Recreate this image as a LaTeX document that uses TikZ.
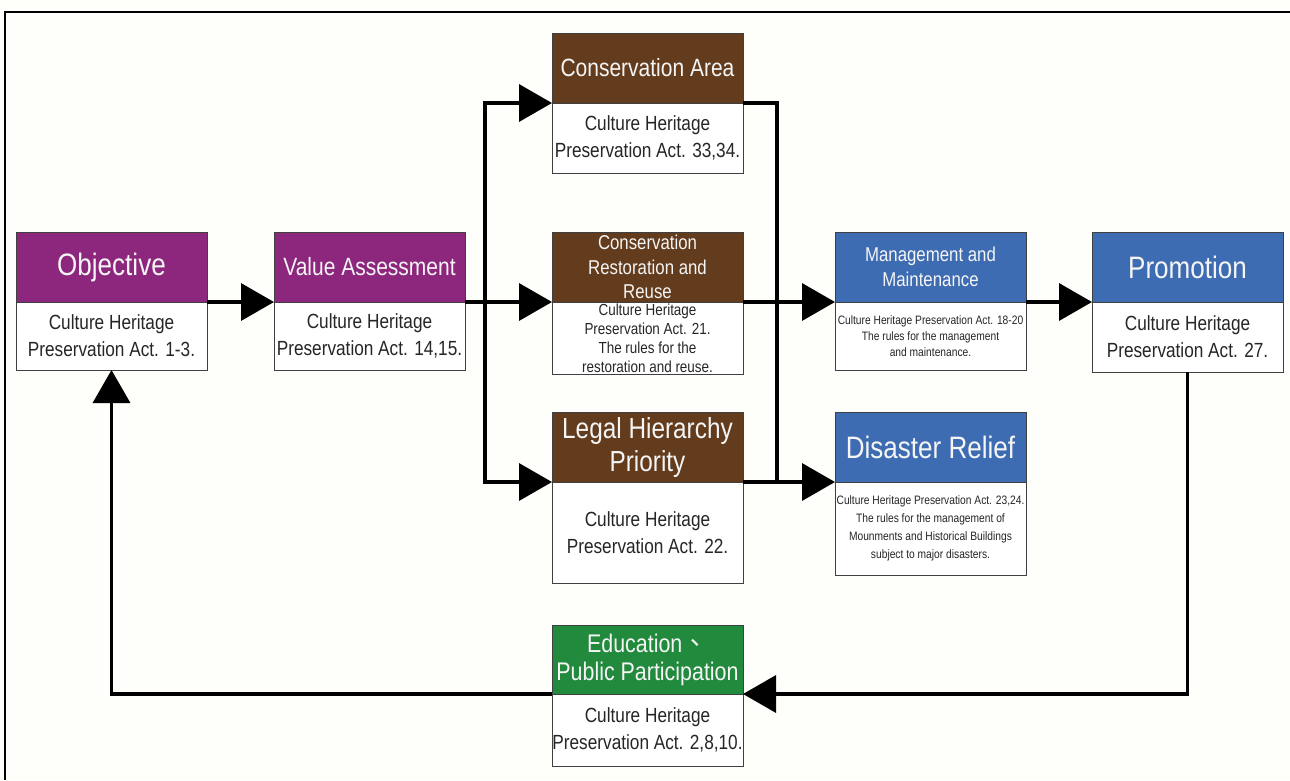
\documentclass[tikz,border=0pt]{standalone}
\usepackage{fontspec}
\setmainfont{Liberation Sans}[FakeStretch=0.84]
\newfontfamily\cjkfont{Noto Sans CJK TC}
\usetikzlibrary{positioning,arrows.meta}

\definecolor{purp}{RGB}{141,39,125}
\definecolor{brwn}{RGB}{99,60,30}
\definecolor{blu}{RGB}{62,108,178}
\definecolor{grn}{RGB}{33,138,60}
\definecolor{paper}{RGB}{254,254,250}

\tikzset{
    head/.style={draw=black!75, line width=0.8pt, fill=#1, text=white!96!black,
        minimum width=191pt, minimum height=70pt, align=center,
        inner sep=0pt, outer sep=0pt, anchor=north west},
    body/.style={draw=black!75, line width=0.8pt, fill=white, text=black!85,
        minimum width=191pt, align=center, inner sep=0pt, outer sep=0pt,
        font=\fontsize{20.5}{27}\selectfont},
    small/.style={font=\fontsize{12.2}{#1}\selectfont},
    link/.style={line width=3.5pt},
    flow/.style={line width=3.5pt, -{Triangle[length=33pt,width=37pt]}}
}

\begin{document}
\begin{tikzpicture}[x=1pt,y=-1pt]
    \fill[paper] (0,0) rectangle (1290,780);
    \useasboundingbox (0,0) rectangle (1290,780);
    \draw[line width=2pt] (1290,12) -- (5,12) -- (5,780);

    \node[head=purp, font=\fontsize{31}{36}\selectfont] (1) at (16,232) {Objective};
    \node[body, below=0pt of 1, minimum height=68pt] (11) {Culture Heritage\\Preservation Act. 1-3.};

    \node[head=purp, font=\fontsize{25}{30}\selectfont] (2) at (274,232) {Value Assessment};
    \node[body, below=0pt of 2, minimum height=68pt] (12) {Culture Heritage\\Preservation Act. 14,15.};

    \node[head=brwn, font=\fontsize{25}{30}\selectfont] (3) at (552,33) {Conservation Area};
    \node[body, below=0pt of 3, minimum height=70pt] (13) {Culture Heritage\\Preservation Act. 33,34.};

    \node[head=brwn, font=\fontsize{20}{24.5}\selectfont] (4) at (552,232) {Conservation\\Restoration and\\Reuse};
    \node[body, below=0pt of 4, minimum height=72pt, font=\fontsize{16}{19}\selectfont] (14) {Culture Heritage\\Preservation Act. 21.\\The rules for the\\restoration and reuse.};

    \node[head=brwn, font=\fontsize{29}{33}\selectfont] (5) at (552,412) {Legal Hierarchy\\Priority};
    \node[body, below=0pt of 5, minimum height=101pt] (15) {Culture Heritage\\Preservation Act. 22.};

    \node[head=blu, font=\fontsize{20}{25}\selectfont] (6) at (835,232) {Management and\\Maintenance};
    \node[body, small=16, below=0pt of 6, minimum height=68pt] (16) {Culture Heritage Preservation Act. 18-20\\The rules for the management\\and maintenance.};

    \node[head=blu, font=\fontsize{31}{36}\selectfont] (7) at (835,412) {Disaster Relief};
    \node[body, small=18, below=0pt of 7, minimum height=93pt] (17) {Culture Heritage Preservation Act. 23,24.\\The rules for the management of\\Mounments and Historical Buildings\\subject to major disasters.};

    \node[head=blu, font=\fontsize{31}{36}\selectfont] (8) at (1092,232) {Promotion};
    \node[body, below=0pt of 8, minimum height=70pt] (18) {Culture Heritage\\Preservation Act. 27.};

    \node[head=grn, minimum height=69pt, font=\fontsize{25.5}{28}\selectfont] (9) at (552,625) {Education{\cjkfont 、}\\Public Participation};
    \node[body, below=0pt of 9, minimum height=72pt] (19) {Culture Heritage\\Preservation Act. 2,8,10.};

    \coordinate (fork) at (485,302);
    \coordinate (join) at (777,482);

    \draw[flow] (1.south east) -- (2.south west);
    \draw[flow] (2.south east) -- (4.south west);
    \draw[flow] (fork) |- (3.south west);
    \draw[flow] (fork) |- (5.south west);
    \draw[link] (3.south east) -| (join);
    \draw[flow] (4.south east) -- (6.south west);
    \draw[flow] (5.south east) -- (7.south west);
    \draw[flow] (6.south east) -- (8.south west);
    \draw[flow] (18.south) |- (9.south east);
    \draw[flow] (9.south west) -| (11.south);

\end{tikzpicture}
\end{document}
